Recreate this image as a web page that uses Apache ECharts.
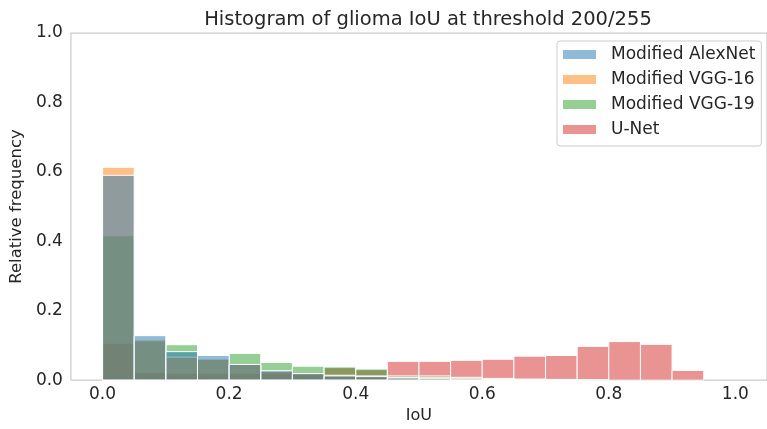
<!DOCTYPE html>
<html>
<head>
<meta charset="utf-8">
<script src="https://cdn.jsdelivr.net/npm/echarts@6/dist/echarts.min.js"></script>
<style>
html,body{margin:0;padding:0;background:#fff;}
#chart{width:767px;height:429px;}
</style>
</head>
<body>
<div id="chart"></div>
<script>
// Bin edges (IoU)
var binEdges = [0.00,0.05,0.10,0.15,0.20,0.25,0.30,0.35,0.40,0.45,0.50,0.55,0.60,0.65,0.70,0.75,0.80,0.85,0.90,0.95,1.00];
var seriesNames = ['Modified AlexNet','Modified VGG-16','Modified VGG-19','U-Net'];
var alexnet = [0.590,0.128,0.082,0.071,0.045,0.027,0.019,0.012,0.010,0.006,0.004,0.003,0.002,0.001,0.001,0.000,0.000,0.000,0.000,0.000];
var vgg16   = [0.613,0.116,0.066,0.061,0.045,0.026,0.018,0.014,0.012,0.008,0.008,0.006,0.002,0.001,0.000,0.000,0.000,0.000,0.000,0.000];
var vgg19   = [0.416,0.113,0.102,0.060,0.077,0.051,0.040,0.038,0.032,0.012,0.012,0.008,0.005,0.003,0.002,0.001,0.000,0.000,0.000,0.000];
var unet    = [0.106,0.022,0.020,0.020,0.020,0.020,0.018,0.036,0.030,0.054,0.054,0.057,0.060,0.069,0.071,0.097,0.111,0.103,0.028,0.000];
var xTicks = [0.0,0.2,0.4,0.6,0.8,1.0];
var colors = ['rgba(31,119,180,0.5)','rgba(255,127,14,0.5)','rgba(44,160,44,0.5)','rgba(214,39,40,0.5)'];

var allData = [alexnet, vgg16, vgg19, unet];
var textColor = '#262626';
var font = 'DejaVu Sans';

function makeSeries(idx){
  var vals = allData[idx];
  var data = vals.map(function(v,i){ return [binEdges[i], binEdges[i+1], v]; });
  return {
    name: seriesNames[idx],
    type: 'custom',
    data: data,
    encode: {x:[0,1], y:2},
    itemStyle: {color: colors[idx]},
    renderItem: function(params, api){
      var v = api.value(2);
      if (v <= 0) return null;
      var p0 = api.coord([api.value(0), v]);
      var p1 = api.coord([api.value(1), 0]);
      return {
        type: 'rect',
        shape: {x: p0[0], y: p0[1], width: p1[0]-p0[0], height: p1[1]-p0[1]},
        style: {fill: colors[idx], stroke: '#ffffff', lineWidth: 1}
      };
    }
  };
}

var chart = echarts.init(document.getElementById('chart'), null, {renderer:'canvas'});
chart.setOption({
  animation: false,
  backgroundColor: '#ffffff',
  title: {
    text: 'Histogram of glioma IoU at threshold 200/255',
    left: 423, top: 5, textAlign: 'center',
    textStyle: {fontFamily: font, fontSize: 19.5, fontWeight: 'normal', color: textColor}
  },
  legend: {
    orient: 'vertical',
    left: 557, top: 41,
    padding: [5, 6, 8, 6],
    itemWidth: 33, itemHeight: 9,
    itemGap: 8,
    icon: 'rect',
    backgroundColor: 'rgba(255,255,255,0.8)',
    borderColor: '#cccccc', borderWidth: 1, borderRadius: 3,
    textStyle: {fontFamily: font, fontSize: 17, color: textColor, lineHeight: 17, padding:[0,0,0,10]},
    data: seriesNames
  },
  grid: {
    left: 68, top: 33, width: 702, height: 350,
    show: true, borderColor: '#cccccc', borderWidth: 1.25, backgroundColor: 'transparent',
    containLabel: false
  },
  xAxis: {
    type: 'value', min: -0.05, max: 1.05,
    name: 'IoU', nameLocation: 'middle', nameGap: 20,
    nameTextStyle: {fontFamily: font, fontSize: 16, color: textColor},
    axisLine: {show: false},
    axisTick: {show: false},
    splitLine: {show: false},
    axisLabel: {
      customValues: xTicks,
      fontFamily: font, fontSize: 17, color: textColor, margin: 6,
      formatter: function(v){ return v.toFixed(1); }
    }
  },
  yAxis: {
    type: 'value', min: 0, max: 1, interval: 0.2,
    name: 'Relative frequency', nameLocation: 'middle', nameGap: 42,
    nameTextStyle: {fontFamily: font, fontSize: 16.5, color: textColor},
    axisLine: {show: false},
    axisTick: {show: false},
    splitLine: {show: false},
    axisLabel: {
      fontFamily: font, fontSize: 17, color: textColor, margin: 8,
      formatter: function(v){ return v.toFixed(1); }
    }
  },
  series: [makeSeries(3), makeSeries(2), makeSeries(1), makeSeries(0)]
});
</script>
</body>
</html>
